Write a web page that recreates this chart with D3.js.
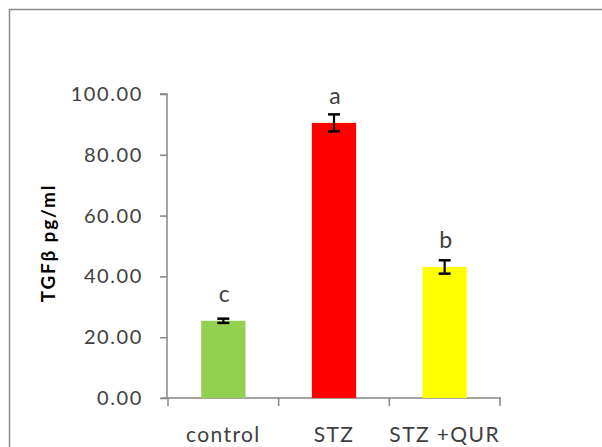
<!DOCTYPE html>
<html>
<head>
<meta charset="utf-8">
<script src="https://cdn.jsdelivr.net/npm/d3@7"></script>
<style>
  html, body { margin: 0; padding: 0; background: #fff; }
  svg { display: block; }
  text { font-family: Lato, "Open Sans", sans-serif; }
</style>
</head>
<body>
<div id="chart"></div>
<script>
// TGFβ levels per group
const groups = ["control", "STZ", "STZ +QUR"];
const means = [25.4, 90.5, 43.1];
const errors = [0.7, 2.8, 2.2];
const letters = ["c", "a", "b"];
const colors = ["#92d050", "#ff0000", "#ffff00"];
const yTicks = [0, 20, 40, 60, 80, 100];

const W = 602, H = 447;
const svg = d3.select("#chart").append("svg").attr("width", W).attr("height", H);

// chart frame
svg.append("rect")
  .attr("x", 9.5).attr("y", 9.5)
  .attr("width", 620).attr("height", 460)
  .attr("fill", "none").attr("stroke", "#8a8a8a").attr("stroke-width", 1.5);

const plotLeft = 167, plotRight = 500, plotTop = 94, plotBottom = 398;

const x = d3.scaleBand().domain(groups).range([plotLeft + 1, plotRight]).paddingInner(0.6).paddingOuter(0.3);
const y = d3.scaleLinear().domain([0, 100]).range([plotBottom, plotTop]);

const axisColor = "#868686";
const textColor = "#404040";

// y axis
const yAxis = svg.append("g").attr("transform", `translate(${plotLeft},0)`)
  .call(d3.axisLeft(y).tickValues(yTicks).tickFormat(d3.format(".2f")).tickSize(7).tickPadding(17));
yAxis.select(".domain").attr("stroke", axisColor).attr("stroke-width", 1.5)
  .attr("d", `M-7,${plotTop}H0V${plotBottom}`);
yAxis.selectAll(".tick line").attr("stroke", axisColor).attr("stroke-width", 1.5);
yAxis.selectAll(".tick text").attr("fill", textColor)
  .style("font-size", "20px").style("letter-spacing", "1.6px");

// x axis with boundary ticks between categories
const boundaries = d3.range(groups.length + 1).map(i => plotLeft + 1 + i * (plotRight - plotLeft - 1) / groups.length);
const xg = svg.append("g");
xg.append("line")
  .attr("x1", plotLeft - 6).attr("x2", plotRight + 1).attr("y1", plotBottom).attr("y2", plotBottom)
  .attr("stroke", axisColor).attr("stroke-width", 1.5);
xg.selectAll(".bt").data(boundaries).join("line")
  .attr("x1", d => d).attr("x2", d => d)
  .attr("y1", plotBottom).attr("y2", plotBottom + 8)
  .attr("stroke", axisColor).attr("stroke-width", 1.5);
xg.selectAll(".lab").data(groups).join("text")
  .attr("x", d => x(d) + x.bandwidth() / 2)
  .attr("y", 442)
  .attr("text-anchor", "middle")
  .attr("fill", textColor)
  .style("font-size", "21px")
  .style("letter-spacing", "1.4px")
  .text(d => d);

// bars
svg.selectAll(".bar").data(groups).join("rect")
  .attr("x", d => x(d))
  .attr("width", x.bandwidth())
  .attr("y", (d, i) => y(means[i]))
  .attr("height", (d, i) => y(0) - y(means[i]))
  .attr("fill", (d, i) => colors[i]);

// error bars
const eb = svg.selectAll(".eb").data(groups).join("g")
  .attr("transform", d => `translate(${x(d) + x.bandwidth() / 2},0)`);
eb.append("line")
  .attr("y1", (d, i) => y(means[i] + errors[i]))
  .attr("y2", (d, i) => y(means[i] - errors[i]))
  .attr("stroke", "#000").attr("stroke-width", 2.2);
eb.append("line").attr("x1", -6).attr("x2", 6)
  .attr("y1", (d, i) => y(means[i] + errors[i]))
  .attr("y2", (d, i) => y(means[i] + errors[i]))
  .attr("stroke", "#000").attr("stroke-width", 2.5);
eb.append("line").attr("x1", -6).attr("x2", 6)
  .attr("y1", (d, i) => y(means[i] - errors[i]))
  .attr("y2", (d, i) => y(means[i] - errors[i]))
  .attr("stroke", "#000").attr("stroke-width", 2.5);

// significance letters
svg.selectAll(".sig").data(groups).join("text")
  .attr("x", d => x(d) + x.bandwidth() / 2 + 1)
  .attr("y", (d, i) => y(means[i]) - 19)
  .attr("text-anchor", "middle")
  .attr("fill", textColor)
  .style("font-size", "23px")
  .text((d, i) => letters[i]);

// y axis title
svg.append("text")
  .attr("transform", `translate(55,243) rotate(-90)`)
  .attr("text-anchor", "middle")
  .attr("fill", "#000")
  .style("font-size", "19px")
  .style("font-weight", "bold")
  .style("letter-spacing", "1.8px")
  .text("TGFβ pg/ml");
</script>
</body>
</html>
